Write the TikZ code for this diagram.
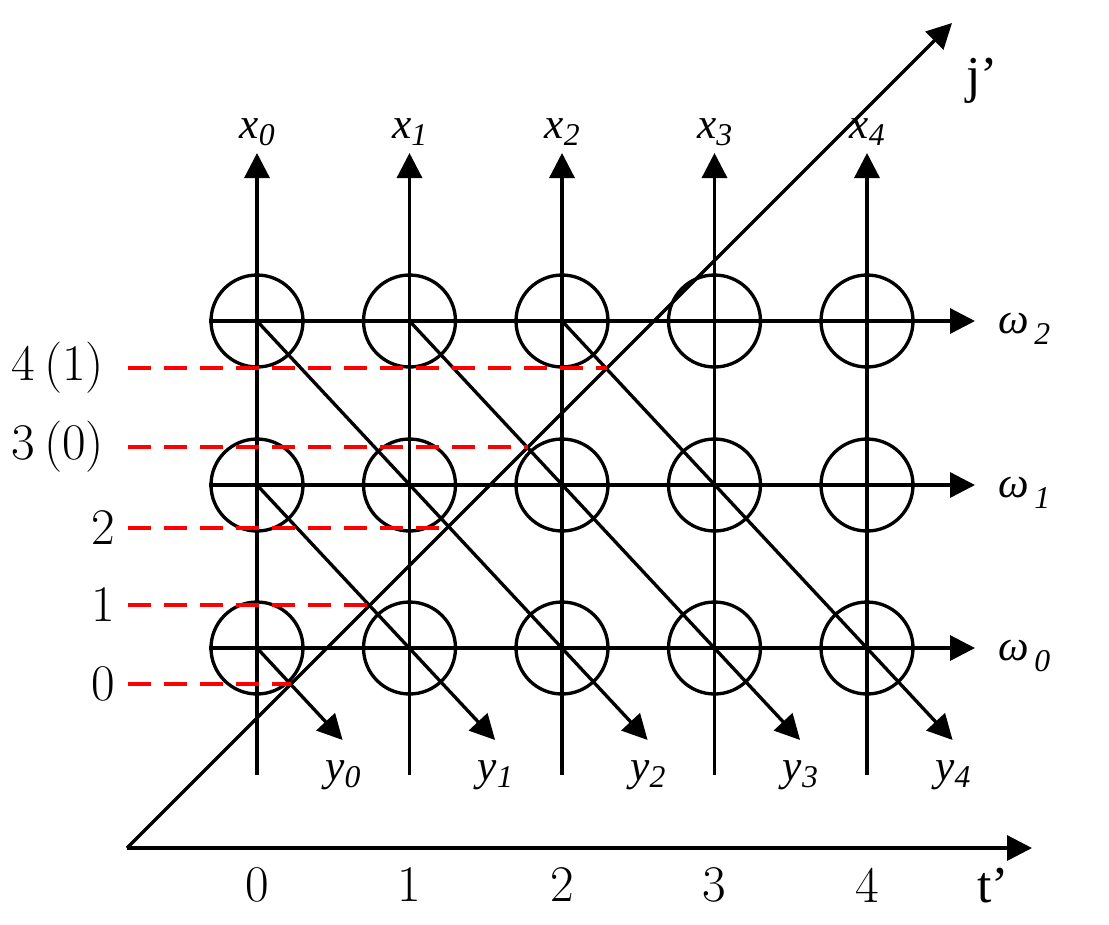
\documentclass[tikz,border=0pt]{standalone}
\usepackage{fontspec}
\newfontfamily\tnr{Liberation Serif}
\usetikzlibrary{arrows.meta,calc}
\tikzset{
  ring/.style={circle,draw,minimum size=27.6pt,inner sep=0pt},
  redline/.style={red,dash pattern=on 6.9pt off 3.9pt},
  varlab/.style={font=\tnr\itshape\fontsize{13}{13}\selectfont,inner sep=0pt},
  numlab/.style={font=\fontsize{15.4}{15.4}\selectfont,inner sep=0pt},
  axlab/.style={font=\tnr\fontsize{15.5}{15.5}\selectfont,inner sep=0pt}
}
\newcommand{\lowix}[2][2.3pt]{\raisebox{-#1}{\fontsize{9.5}{9.5}\selectfont #2}}

\begin{document}
\begin{tikzpicture}[x=0.3pt,y=-0.3pt]
\useasboundingbox (0,0) rectangle (1109,924);
\begin{scope}[line width=1pt,>={Triangle[length=7.5pt,width=7.5pt]}]
\foreach \i/\x in {0/257,1/409.5,2/562,3/714.5,4/867}{
  \coordinate (vb\i) at (\x,775);
  \coordinate (vt\i) at (\x,153);
  \coordinate (yt\i) at (\x+85.6,740);
  \draw [->] (vb\i) -- (vt\i);
  \node[varlab,anchor=base west] (xl\i) at (\x-19,138) {x\lowix{\i}};
  \node[varlab,anchor=base] (yl\i) at (\x+86,780) {y\lowix{\i}};
  \node[numlab] (n\i) at (\x,885) {\i};
  \foreach \j/\y in {0/648,1/485,2/321}
    \node[ring] (c\i\j) at (\x,\y) {};
}
\foreach \j/\y in {0/648,1/485,2/321}{
  \coordinate (hr\j) at (975,\y);
  \draw [->] (c0\j.west) -- (hr\j);
  \node[varlab,anchor=base west] (wl\j) at (997,\y+12) {ω\hspace{1.5pt}\lowix[3.3pt]{\j}};
}
\draw [->] (c00.center) -- (yt0);
\draw [->] (c01.center) -- (yt1);
\draw [->] (c02.center) -- (yt2);
\draw [->] (c12.center) -- (yt3);
\draw [->] (c22.center) -- (yt4);
\coordinate (o) at (127,848);
\coordinate (jt) at (952,23);
\coordinate (tt) at (1032,848);
\draw [->] (o) -- (jt);
\draw [->] (o) -- (tt);
\node[axlab] (jl) at (982,81) {j’};
\node[axlab] (tl) at (993,886) {t’};
\foreach \k/\y/\txt/\lx in {0/684/0/103,1/605/1/103,2/528/2/103,3/447/{3\,(0)}/58,4/368/{4\,(1)}/58}{
  \coordinate (dl\k) at (128,\y);
  \coordinate (dr\k) at ($(o)+(848-\y,\y-848)$);
  \draw[redline] (dl\k) -- (dr\k);
  \node[numlab] (dn\k) at (\lx,\y) {\txt};
}
\end{scope}
\end{tikzpicture}
\end{document}
